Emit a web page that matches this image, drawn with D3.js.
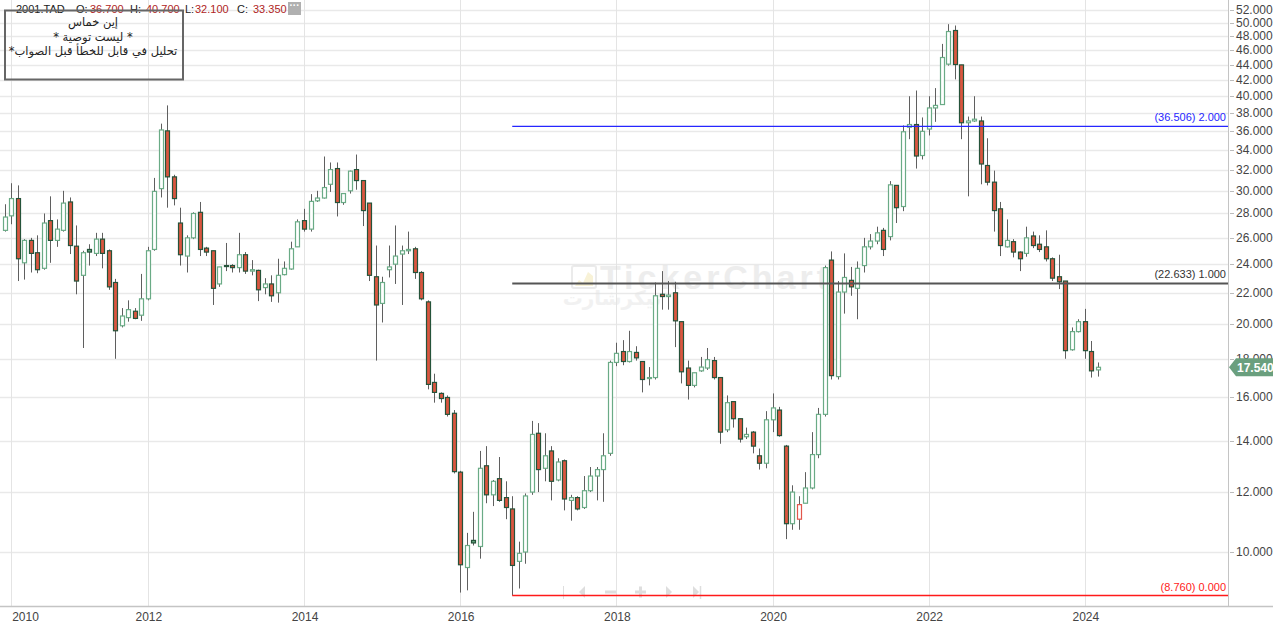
<!DOCTYPE html>
<html><head><meta charset="utf-8">
<script src="https://cdn.jsdelivr.net/npm/d3@7"></script>
<style>body{margin:0;background:#fff;overflow:hidden}svg{display:block}</style>
</head><body><svg id="c" width="1273" height="628"></svg>
<script>
// Monthly candles, first candle = index 0
const open = [26.6,27.8,29.3,24.1,25.8,24.85,23.7,27.4,25.8,26.6,
29.0,25.35,23.2,25.1,24.8,25.9,25.0,22.7,19.9,20.4,
20.8,20.55,21.6,25.1,30.2,36.0,31.3,27.2,24.6,26.0,
28.1,25.2,25.0,22.6,23.9,23.9,23.75,24.7,23.5,23.55,
22.35,22.6,22.0,23.25,23.65,25.3,27.4,26.7,29.1,29.35,
30.6,32.1,28.95,30.0,32.0,30.95,28.9,23.1,21.3,23.6,
24.0,24.75,25.0,25.15,23.4,21.4,16.75,16.2,16.0,15.25,
12.75,9.54,10.36,10.17,13.0,11.9,12.5,11.8,11.4,9.72,
10.0,12.0,14.35,12.9,13.6,12.45,13.2,11.7,11.8,11.45,
12.05,12.6,12.85,13.5,17.8,18.4,17.85,18.35,17.85,16.95,
17.0,21.9,21.75,22.0,20.15,17.5,16.6,17.35,17.5,17.9,
17.0,14.5,15.8,15.0,14.2,14.4,13.4,13.1,14.95,15.4,
13.8,10.9,11.05,11.6,12.15,13.45,15.2,24.3,17.05,22.05,
22.85,22.3,23.9,25.3,25.75,26.6,26.1,30.5,28.6,36.4,
36.7,33.4,36.2,38.6,39.0,44.1,48.85,44.0,36.9,37.1,
37.1,32.4,30.8,28.4,25.3,25.7,24.9,24.8,26.15,25.5,
25.3,24.4,23.1,22.8,18.5,19.55,20.15,18.4,17.4];
const high = [28.8,30.7,30.5,25.9,26.0,26.2,28.0,29.5,27.5,30.0,
29.4,27.0,25.0,25.5,26.4,26.4,25.1,22.95,21.0,21.5,
21.0,23.3,25.3,31.2,36.8,38.9,31.5,28.5,26.2,28.1,
29.0,25.3,25.0,23.8,25.6,24.0,26.4,24.9,24.3,23.6,
23.0,23.2,24.4,24.2,25.7,27.5,28.4,29.7,30.0,33.3,
32.7,32.7,29.8,31.9,33.5,31.0,28.9,25.4,23.1,25.4,
27.0,25.4,26.5,25.3,23.5,21.5,17.2,16.25,16.1,15.4,
12.8,10.6,11.3,13.6,13.8,12.45,13.35,12.4,11.85,10.32,
11.95,14.9,14.8,14.35,13.8,13.3,13.25,11.9,11.85,12.6,
12.95,12.95,14.35,17.9,18.9,19.05,19.6,18.7,17.85,17.55,
22.7,23.5,22.8,22.75,20.15,17.9,17.25,18.1,18.6,18.1,
17.0,16.1,15.8,15.0,14.6,14.45,13.7,15.35,16.2,15.55,
13.85,12.25,11.85,12.75,14.4,15.5,23.9,24.95,22.8,24.8,
23.8,24.2,26.0,26.3,26.9,26.8,30.9,30.5,36.6,40.0,
40.7,37.5,40.0,41.0,46.9,49.8,49.6,44.0,37.6,40.0,
37.6,35.2,31.9,29.0,27.5,25.9,24.95,26.9,26.5,26.2,
26.6,24.5,24.7,22.8,19.8,20.3,20.95,19.0,17.8];
const low = [26.5,27.1,22.8,22.9,23.4,23.35,23.6,24.1,25.3,26.5,
24.75,21.9,18.6,23.9,24.6,23.7,22.2,18.0,19.8,20.15,
20.3,20.2,21.5,25.0,29.4,28.5,28.7,23.9,23.4,25.9,
24.6,24.6,21.2,22.4,23.5,23.4,23.4,23.3,23.2,21.45,
21.9,21.4,21.35,23.2,23.6,25.3,26.5,26.5,29.0,29.3,
29.9,27.75,28.75,29.75,30.1,26.95,22.8,17.9,20.1,23.05,
22.6,21.2,24.75,22.95,21.5,16.4,15.75,15.75,15.1,12.7,
8.84,8.9,10.2,9.8,11.6,11.5,11.65,11.05,8.76,8.95,
9.65,11.9,12.0,12.4,11.7,12.4,11.35,11.0,11.35,11.4,
12.0,11.7,11.65,13.4,17.6,17.65,17.8,17.9,16.25,16.6,
16.9,20.9,20.9,18.65,16.7,15.9,16.5,17.3,17.4,16.9,
13.9,14.4,14.6,13.95,14.1,13.5,12.85,12.9,14.4,14.2,
10.4,10.7,10.7,11.6,12.1,13.3,15.1,16.9,16.9,20.65,
21.8,20.3,23.4,25.1,25.5,24.6,25.8,27.2,28.2,35.1,
32.1,33.0,35.5,37.0,38.95,43.9,42.1,35.1,29.5,37.0,
30.6,30.5,26.5,24.6,25.25,24.5,23.5,24.55,25.2,24.9,
24.2,22.8,22.25,18.0,18.45,19.5,18.0,17.0,17.05];
const close = [27.7,29.3,24.4,25.8,24.8,23.6,27.2,25.8,26.7,28.9,
25.4,22.8,24.85,24.9,25.9,24.8,22.4,19.6,20.5,20.9,
20.35,21.6,25.0,29.95,36.1,31.3,29.3,24.7,26.0,28.0,
25.1,24.9,22.3,23.8,23.85,23.75,24.7,23.5,23.6,22.2,
22.6,21.8,23.2,23.7,25.15,27.3,26.7,29.05,29.35,30.3,
32.0,28.95,29.75,31.85,30.95,28.25,23.2,21.2,22.7,23.8,
24.6,25.0,25.1,23.4,21.6,16.65,16.25,15.95,15.2,12.77,
9.62,10.2,10.28,12.9,11.9,12.4,11.7,11.45,9.6,9.96,
11.86,14.3,12.85,13.4,12.4,13.15,11.75,11.8,11.4,12.05,
12.6,12.85,13.4,17.8,18.3,17.85,18.4,18.05,16.9,17.0,
21.8,21.75,21.85,20.2,17.3,16.6,17.25,17.55,17.95,17.0,
14.4,15.75,15.0,14.1,14.3,13.8,13.1,14.95,15.5,14.25,
10.9,12.0,11.55,12.15,13.45,15.2,23.75,17.1,22.05,23.05,
22.4,23.7,25.3,25.75,26.4,25.1,30.55,28.5,35.9,36.7,
33.35,35.95,38.6,38.9,45.0,48.7,44.05,36.9,37.1,37.3,
32.55,30.8,28.25,25.4,25.8,24.9,24.4,26.0,25.4,25.1,
24.4,23.0,22.75,18.45,19.55,20.15,18.45,17.35,17.54];

const yTicks = [10,12,14,16,18,20,22,24,26,28,30,32,34,36,38,40,42,44,46,48,50,52];
const xTickIndex = [1,22,46,70,94,118,142,166];
const xTickLabels = ["2010","2012","2014","2016","2018","2020","2022","2024"];
const fibLevels = [8.760, 22.633, 36.506];
const fibRatios = ["0.000","1.000","2.000"];
const fibStartIndex = 78;
const headerItems = [["2001.TAD",""],["O:","36.700"],["H:","40.700"],["L:","32.100"],["C:","33.350"]];
const noteLines = ["إين خماس","* ليست توصية *","تحليل في قابل للخطأ قبل الصواب*"];
const lastPrice = 17.54;

const svg = d3.select("#c");
const plotR = 1228, plotB = 606;
const x = d3.scaleLinear().domain([-0.72, 188]).range([0, plotR]);
const y = d3.scaleLog().domain([8.486, 53.6]).range([plotB, 0]);
const font = "'Liberation Sans', Arial, sans-serif";

// grid
const g = svg.append("g");
g.selectAll("line.hg").data(yTicks).join("line")
  .attr("x1",0).attr("x2",plotR).attr("y1",d=>Math.round(y(d))+0.5).attr("y2",d=>Math.round(y(d))+0.5)
  .attr("stroke","#e9e9e9").attr("stroke-width",1.6);
g.selectAll("line.vg").data(xTickIndex).join("line")
  .attr("x1",d=>Math.round(x(d))+0.5).attr("x2",d=>Math.round(x(d))+0.5).attr("y1",0).attr("y2",plotB)
  .attr("stroke","#e4e4e4").attr("stroke-width",1);

// watermark
const wm = svg.append("g").attr("opacity",0.5);
wm.append("rect").attr("x",572).attr("y",266).attr("width",24).attr("height",22).attr("rx",2)
  .attr("fill","none").attr("stroke","#d8d8d8").attr("stroke-width",2);
wm.append("path").attr("d","M575 286 L579 280 L583 283 L588 272 L593 276 L593 286 Z").attr("fill","#f3e7b0");
wm.append("text").attr("x",600).attr("y",289).attr("font-family",font).attr("font-weight","bold")
  .attr("font-size",34).attr("textLength",228).attr("fill","#dcdcdc").text("TickerChart");
wm.append("text").attr("x",612).attr("y",305).attr("font-family","'DejaVu Sans'").attr("font-weight","bold")
  .attr("font-size",20).attr("fill","#e4e4e4").attr("text-anchor","middle").text("تيكرشارت");

// nav icons
const nav = svg.append("g").attr("fill","#dedede").attr("stroke","#dedede");
nav.append("line").attr("x1",563.5).attr("x2",563.5).attr("y1",586).attr("y2",599).attr("stroke-width",1);
nav.append("path").attr("d","M579 592 L585 586 L585 598 Z").attr("stroke","none");
nav.append("rect").attr("x",605).attr("y",590.5).attr("width",11).attr("height",3).attr("stroke","none");
nav.append("path").attr("d","M635 590.5 h4 v-4 h3 v4 h4 v3 h-4 v4 h-3 v-4 h-4 Z").attr("stroke","none");
nav.append("path").attr("d","M666 586 L672 592 L666 598 Z").attr("stroke","none");
nav.append("path").attr("d","M693 586 L699 592 L693 598 Z").attr("stroke","none");
nav.append("line").attr("x1",700.5).attr("x2",700.5).attr("y1",586).attr("y2",599).attr("stroke-width",1.5);

// candles
const idx = d3.range(close.length);
const cg = svg.append("g");
function style(i){
  const up = i===0 ? true : close[i] >= close[i-1];
  const hollow = close[i] > open[i];
  if (hollow) return {fill:"#ffffff", stroke: up ? "#6aab86" : "#e2564b"};
  return {fill: up ? "#5f9f79" : "#da5640", stroke:"#25533a"};
}
cg.selectAll("line.w").data(idx).join("line")
  .attr("x1",i=>Math.round(x(i))+0.5).attr("x2",i=>Math.round(x(i))+0.5)
  .attr("y1",i=>y(high[i])).attr("y2",i=>y(low[i]))
  .attr("stroke","#5f5f5f").attr("stroke-width",1);
cg.selectAll("rect.b").data(idx).join("rect")
  .attr("x",i=>Math.round(x(i))-1.5).attr("width",4)
  .attr("y",i=>y(Math.max(open[i],close[i])))
  .attr("height",i=>Math.max(1, Math.abs(y(open[i])-y(close[i]))))
  .attr("fill",i=>style(i).fill).attr("stroke",i=>style(i).stroke).attr("stroke-width",1.2);

// fib lines
const fibColors = ["#ff1a1a","#555555","#2626ff"];
const fibWidth = [1.5,2,1.2];
fibLevels.forEach((v,k)=>{
  const yy = y(v);
  svg.append("line").attr("x1",x(fibStartIndex)).attr("x2",plotR).attr("y1",yy).attr("y2",yy)
    .attr("stroke",fibColors[k]).attr("stroke-width",fibWidth[k]);
  svg.append("text").attr("x",plotR-2).attr("y",yy-5).attr("text-anchor","end")
    .attr("font-family",font).attr("font-size",11).attr("fill",fibColors[k]==="#555555"?"#333":fibColors[k])
    .text(`(${v.toFixed(3)}) ${fibRatios[k]}`);
});

// axes
svg.append("line").attr("x1",plotR+0.5).attr("x2",plotR+0.5).attr("y1",0).attr("y2",plotB).attr("stroke","#c4c4c4");
svg.append("line").attr("x1",0).attr("x2",1273).attr("y1",plotB+0.5).attr("y2",plotB+0.5).attr("stroke","#c4c4c4").attr("stroke-width",1.5);
const ya = svg.append("g");
ya.selectAll("line").data(yTicks).join("line")
  .attr("x1",plotR+2).attr("x2",plotR+6).attr("y1",d=>Math.round(y(d))+0.5).attr("y2",d=>Math.round(y(d))+0.5)
  .attr("stroke","#bbb");
ya.selectAll("text").data(yTicks).join("text")
  .attr("x",plotR+8).attr("y",d=>y(d)+4).attr("font-family",font).attr("font-size",12).attr("fill","#444")
  .text(d=>d3.format(".3f")(d));
const xa = svg.append("g");
xa.selectAll("text").data(xTickIndex).join("text")
  .attr("x",(d,k)=> x(d)+1)
  .attr("text-anchor",(d,k)=> k===0 ? "start" : "middle")
  .attr("y",621).attr("font-family",font).attr("font-size",12).attr("fill","#444")
  .text((d,k)=>xTickLabels[k]);

// last price tag
const ly = y(lastPrice);
svg.append("path").attr("d",`M${plotR+1} ${ly} L${plotR+8} ${ly-9} L1273 ${ly-9} L1273 ${ly+9} L${plotR+8} ${ly+9} Z`)
  .attr("fill","#6a9f7e");
svg.append("text").attr("x",1237).attr("y",ly+4.5).attr("font-family",font).attr("font-size",12)
  .attr("font-weight","bold").attr("fill","#fff").text(lastPrice.toFixed(3));

// header
const hx = [16,76,130,185,237];
const hv = [0,90,146,195,253];
headerItems.forEach((h,k)=>{
  svg.append("text").attr("x",hx[k]).attr("y",13).attr("font-family",font).attr("font-size",11).attr("fill","#222").text(h[0]);
  if(h[1]) svg.append("text").attr("x",hv[k]).attr("y",13).attr("font-family",font).attr("font-size",11).attr("fill","#b02424").text(h[1]);
});
svg.append("rect").attr("x",288).attr("y",2).attr("width",13).attr("height",13).attr("fill","#b0b0b0");
svg.append("text").attr("x",294.5).attr("y",9).attr("text-anchor","middle").attr("font-family",font)
  .attr("font-size",10).attr("font-weight","bold").attr("fill","#fff").text("···");

// note box
svg.append("rect").attr("x",5).attr("y",10.5).attr("width",178).attr("height",69).attr("fill","none")
  .attr("stroke","#666").attr("stroke-width",2);
noteLines.forEach((t,k)=>{
  svg.append("text").attr("x",93).attr("y",26+k*14.5).attr("text-anchor","middle").attr("direction","rtl")
    .attr("font-family","'DejaVu Sans', sans-serif").attr("font-size",11.5).attr("fill","#222").text(t);
});
</script></body></html>
